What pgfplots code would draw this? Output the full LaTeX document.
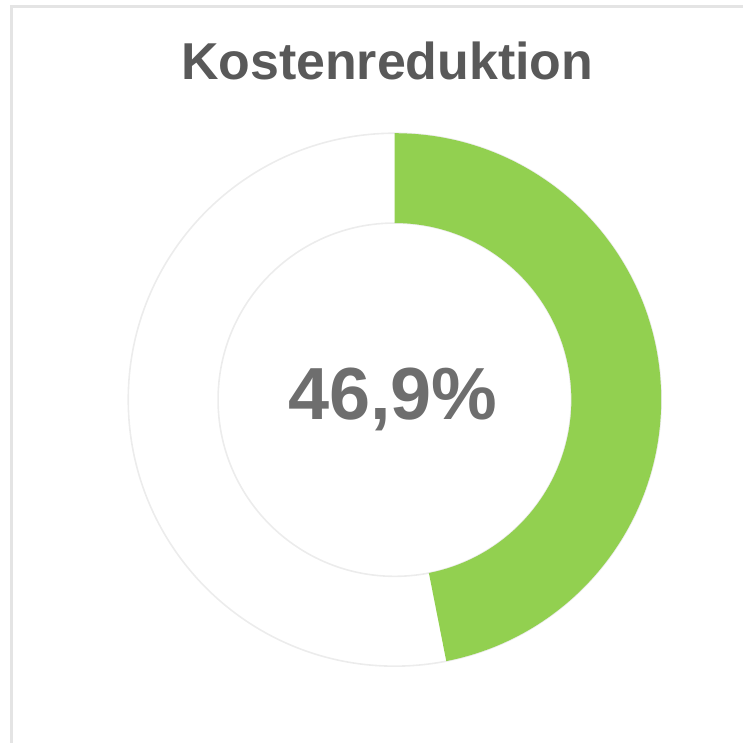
\documentclass[border=0pt]{standalone}
\usepackage{pgfplots}
\pgfplotsset{compat=1.18}
\usepackage{fontspec}
\setmainfont{Liberation Sans}
\definecolor{donutgreen}{RGB}{146,208,80}
\definecolor{ringgrey}{RGB}{236,236,236}
\definecolor{framegrey}{RGB}{228,228,228}
\definecolor{titlegrey}{RGB}{89,89,89}
\definecolor{valgrey}{RGB}{110,110,110}
\begin{document}
\begin{tikzpicture}
\def\share{46.9}% Kostenreduktion in percent
\pgfmathsetmacro{\endangle}{90-3.6*\share}
\begin{axis}[
  width=744bp, height=744bp, scale only axis,
  xmin=0, xmax=744, ymin=0, ymax=744,
  axis equal image, hide axis, clip=false]
  \path (axis cs:0,0) rectangle (axis cs:744,744);
  % panel frame
  \draw[framegrey, line width=3bp] (axis cs:12,0) -- (axis cs:12,737) -- (axis cs:744,737);
  % full ring outline
  \draw[ringgrey, line width=1.6bp] (axis cs:395.5,343.5) circle[radius=267];
  \draw[ringgrey, line width=1.6bp] (axis cs:395.5,343.5) circle[radius=177];
  % green sector
  \fill[donutgreen] (axis cs:395.5,343.5) ++(90:267) arc[start angle=90, end angle=\endangle, radius=267]
     -- ++(\endangle:-90) arc[start angle=\endangle, end angle=90, radius=177] -- cycle;
  \node[anchor=base, text=titlegrey, font=\fontsize{52bp}{60bp}\selectfont\bfseries] at (axis cs:388,664) {Kostenreduktion};
  \node[anchor=base, text=valgrey, font=\fontsize{74bp}{84bp}\selectfont\bfseries] at (axis cs:393.5,324) {46,9\%};
\end{axis}
\end{tikzpicture}
\end{document}
